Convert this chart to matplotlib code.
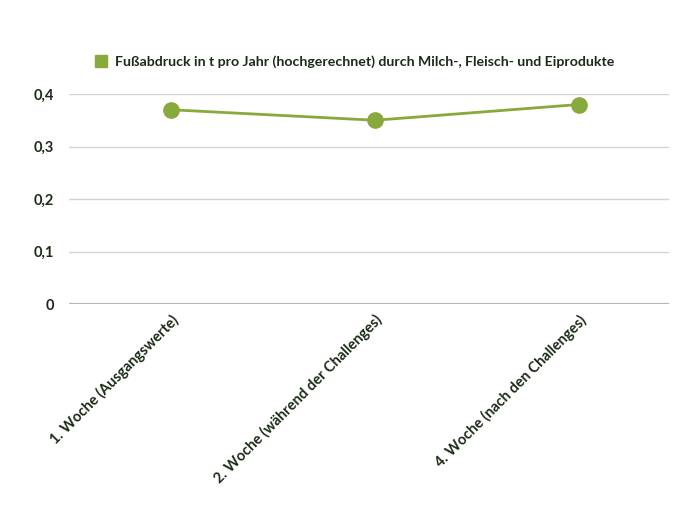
import matplotlib.pyplot as plt
from matplotlib.lines import Line2D

# data
categories = [
    "1. Woche (Ausgangswerte)",
    "2. Woche (während der Challenges)",
    "4. Woche (nach den Challenges)",
]
values = [0.37, 0.35, 0.38]
series_name = "Fußabdruck in t pro Jahr (hochgerechnet) durch Milch-, Fleisch- und Eiprodukte"

green = "#88a93b"
text_col = "#1c2b17"

plt.rcParams["font.family"] = ["Lato", "DejaVu Sans"]

fig = plt.figure(figsize=(7, 5.15), dpi=100)
W, H = 700, 515
ax = fig.add_axes([69 / W, 1 - 304 / H, (681 - 69) / W, (304 - 94) / H])

x = list(range(len(categories)))
ax.plot(x, values, color=green, lw=2, marker="o", markersize=11, zorder=3, clip_on=False)

ax.set_xlim(-0.5, len(categories) - 0.5)
ax.set_ylim(0, 0.4)
yt = [0, 0.1, 0.2, 0.3, 0.4]
ax.set_yticks(yt)
ax.set_yticklabels(["0", "0,1", "0,2", "0,3", "0,4"], fontsize=10.5, fontweight="bold", color=text_col)
for v in yt[1:]:
    ax.axhline(v, color="#d4d4d4", lw=1, zorder=1, xmax=(668 - 69) / (681 - 69))
ax.axhline(0, color="#b5b5b5", lw=1.5, zorder=1, xmax=(668 - 69) / (681 - 69))

ax.set_xticks(x)
ax.set_xticklabels(categories, rotation=45, ha="right", rotation_mode="anchor",
                   fontsize=10.5, fontweight="bold", color=text_col)
ax.tick_params(axis="both", length=0)
ax.tick_params(axis="y", pad=11)
ax.tick_params(axis="x", pad=6)
for s in ax.spines.values():
    s.set_visible(False)

handle = Line2D([], [], marker="s", color=green, linestyle="none", markersize=9)
fig.legend([handle], [series_name], loc="center left", bbox_to_anchor=(80 / W, 1 - 62 / H),
           frameon=False, handletextpad=0.4, handlelength=1.2,
           prop={"size": 10.2, "weight": "bold"}, labelcolor=text_col)

fig.savefig("out.png", dpi=100)
